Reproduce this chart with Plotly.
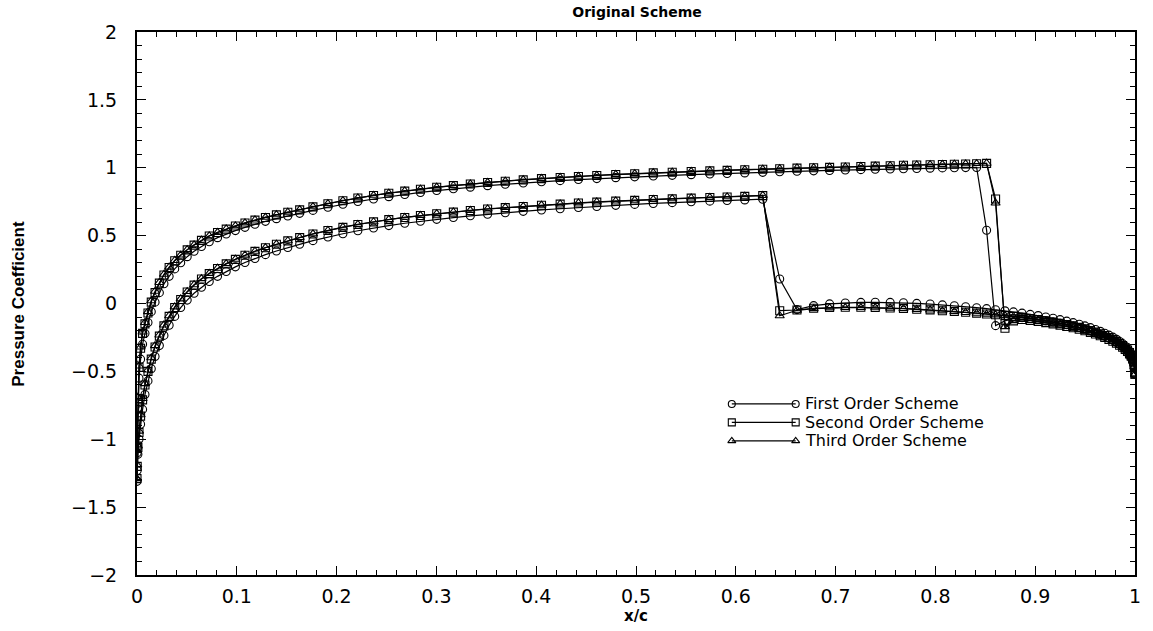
import plotly.graph_objects as go

# Chordwise stations x/c (shared by upper and lower surface, all schemes)
XC = [
    0.0000, 0.0002, 0.0009, 0.0020, 0.0036, 0.0056, 0.0080, 0.0110, 0.0143, 0.0181,
    0.0224, 0.0270, 0.0322, 0.0378, 0.0438, 0.0503, 0.0572, 0.0646, 0.0724, 0.0807,
    0.0894, 0.0986, 0.1082, 0.1182, 0.1287, 0.1397, 0.1511, 0.1630, 0.1763, 0.1913,
    0.2063, 0.2213, 0.2370, 0.2523, 0.2683, 0.2840, 0.3003, 0.3170, 0.3340, 0.3513,
    0.3690, 0.3870, 0.4053, 0.4240, 0.4423, 0.4607, 0.4797, 0.4987, 0.5173, 0.5363,
    0.5553, 0.5740, 0.5913, 0.6090, 0.6270, 0.6440, 0.6613, 0.6780, 0.6940, 0.7097,
    0.7253, 0.7397, 0.7547, 0.7680, 0.7813, 0.7947, 0.8070, 0.8190, 0.8303, 0.8413,
    0.8513, 0.8603, 0.8697, 0.8782, 0.8868, 0.8950, 0.9030, 0.9106, 0.9179, 0.9249,
    0.9316, 0.9380, 0.9441, 0.9498, 0.9553, 0.9604, 0.9652, 0.9697, 0.9739, 0.9778,
    0.9814, 0.9846, 0.9876, 0.9902, 0.9925, 0.9945, 0.9962, 0.9976, 0.9987, 0.9994,
    1.0000,
]

# First order scheme
CP_UPPER_1 = [
    -1.310, -1.100, -0.780, -0.550, -0.410, -0.300, -0.220, -0.140, -0.060, 0.010,
    0.080, 0.145, 0.200, 0.255, 0.300, 0.345, 0.385, 0.420, 0.455, 0.485,
    0.512, 0.537, 0.561, 0.584, 0.605, 0.625, 0.645, 0.664, 0.686, 0.709,
    0.731, 0.751, 0.770, 0.787, 0.803, 0.818, 0.832, 0.845, 0.857, 0.868,
    0.878, 0.888, 0.897, 0.905, 0.913, 0.920, 0.927, 0.933, 0.939, 0.944,
    0.949, 0.954, 0.958, 0.962, 0.966, 0.970, 0.974, 0.977, 0.980, 0.983,
    0.986, 0.989, 0.991, 0.993, 0.995, 0.997, 0.999, 1.000, 1.001, 1.002,
    0.540, -0.163, -0.128, -0.110, -0.104, -0.110, -0.118, -0.127, -0.136, -0.146,
    -0.156, -0.167, -0.178, -0.190, -0.202, -0.215, -0.228, -0.241, -0.255, -0.269,
    -0.284, -0.300, -0.316, -0.332, -0.349, -0.367, -0.386, -0.407, -0.431, -0.466,
    -0.520,
]
CP_LOWER_1 = [
    -1.310, -1.230, -1.110, -1.000, -0.890, -0.780, -0.670, -0.570, -0.480, -0.390,
    -0.310, -0.235, -0.160, -0.095, -0.030, 0.025, 0.075, 0.120, 0.162, 0.200,
    0.236, 0.270, 0.302, 0.332, 0.360, 0.387, 0.412, 0.436, 0.463, 0.490,
    0.514, 0.536, 0.556, 0.574, 0.591, 0.606, 0.620, 0.633, 0.646, 0.658,
    0.669, 0.679, 0.689, 0.698, 0.707, 0.715, 0.723, 0.730, 0.737, 0.743,
    0.749, 0.754, 0.759, 0.763, 0.768, 0.180, -0.045, -0.016, -0.003, 0.004,
    0.008, 0.009, 0.008, 0.005, 0.001, -0.004, -0.010, -0.017, -0.024, -0.031,
    -0.038, -0.046, -0.054, -0.062, -0.071, -0.080, -0.089, -0.099, -0.109, -0.119,
    -0.130, -0.141, -0.153, -0.165, -0.178, -0.191, -0.205, -0.219, -0.233, -0.248,
    -0.264, -0.280, -0.297, -0.315, -0.333, -0.352, -0.372, -0.394, -0.420, -0.458,
    -0.520,
]

# Second order scheme
CP_UPPER_2 = [
    -1.290, -1.050, -0.700, -0.470, -0.330, -0.220, -0.150, -0.070, 0.010, 0.080,
    0.150, 0.210, 0.265, 0.315, 0.355, 0.395, 0.430, 0.465, 0.497, 0.523,
    0.548, 0.571, 0.593, 0.614, 0.634, 0.653, 0.672, 0.690, 0.712, 0.735,
    0.757, 0.777, 0.796, 0.812, 0.828, 0.842, 0.856, 0.868, 0.880, 0.891,
    0.901, 0.911, 0.920, 0.928, 0.936, 0.943, 0.950, 0.956, 0.962, 0.967,
    0.972, 0.977, 0.981, 0.985, 0.989, 0.993, 0.997, 1.000, 1.003, 1.006,
    1.009, 1.012, 1.015, 1.018, 1.020, 1.022, 1.024, 1.026, 1.028, 1.030,
    1.032, 0.770, -0.182, -0.128, -0.118, -0.124, -0.132, -0.141, -0.150, -0.159,
    -0.169, -0.179, -0.190, -0.201, -0.213, -0.225, -0.238, -0.251, -0.264, -0.278,
    -0.292, -0.307, -0.322, -0.338, -0.354, -0.371, -0.389, -0.409, -0.432, -0.465,
    -0.520,
]
CP_LOWER_2 = [
    -1.290, -1.200, -1.060, -0.950, -0.830, -0.710, -0.600, -0.500, -0.410, -0.320,
    -0.240, -0.165, -0.095, -0.030, 0.030, 0.085, 0.135, 0.180, 0.220, 0.258,
    0.292, 0.325, 0.355, 0.384, 0.411, 0.437, 0.461, 0.485, 0.512, 0.538,
    0.561, 0.582, 0.601, 0.618, 0.634, 0.648, 0.661, 0.673, 0.685, 0.696,
    0.706, 0.715, 0.724, 0.732, 0.740, 0.747, 0.754, 0.760, 0.766, 0.771,
    0.776, 0.781, 0.785, 0.789, 0.795, -0.053, -0.048, -0.035, -0.030, -0.028,
    -0.028, -0.030, -0.033, -0.037, -0.042, -0.047, -0.053, -0.059, -0.065, -0.071,
    -0.077, -0.083, -0.089, -0.095, -0.102, -0.110, -0.118, -0.127, -0.136, -0.145,
    -0.155, -0.165, -0.176, -0.187, -0.199, -0.211, -0.224, -0.237, -0.250, -0.264,
    -0.279, -0.294, -0.310, -0.326, -0.343, -0.361, -0.380, -0.401, -0.425, -0.460,
    -0.520,
]

# Third order scheme
CP_UPPER_3 = [
    -1.290, -1.040, -0.690, -0.460, -0.320, -0.210, -0.140, -0.060, 0.020, 0.090,
    0.155, 0.215, 0.268, 0.317, 0.357, 0.397, 0.432, 0.466, 0.498, 0.524,
    0.549, 0.572, 0.594, 0.615, 0.635, 0.654, 0.673, 0.691, 0.713, 0.736,
    0.758, 0.778, 0.797, 0.813, 0.829, 0.843, 0.857, 0.869, 0.881, 0.892,
    0.902, 0.912, 0.921, 0.929, 0.937, 0.944, 0.951, 0.957, 0.963, 0.968,
    0.973, 0.978, 0.982, 0.986, 0.990, 0.994, 0.998, 1.001, 1.004, 1.007,
    1.010, 1.013, 1.016, 1.019, 1.021, 1.023, 1.025, 1.027, 1.029, 1.031,
    1.033, 0.740, -0.170, -0.126, -0.117, -0.123, -0.131, -0.140, -0.149, -0.158,
    -0.168, -0.178, -0.189, -0.200, -0.212, -0.224, -0.237, -0.250, -0.263, -0.277,
    -0.291, -0.306, -0.321, -0.337, -0.353, -0.370, -0.388, -0.408, -0.431, -0.464,
    -0.520,
]
CP_LOWER_3 = [
    -1.290, -1.190, -1.050, -0.940, -0.820, -0.700, -0.590, -0.490, -0.400, -0.310,
    -0.232, -0.158, -0.090, -0.025, 0.034, 0.088, 0.138, 0.183, 0.222, 0.260,
    0.294, 0.326, 0.356, 0.385, 0.412, 0.438, 0.462, 0.486, 0.513, 0.539,
    0.562, 0.583, 0.602, 0.619, 0.635, 0.649, 0.662, 0.674, 0.686, 0.697,
    0.707, 0.716, 0.725, 0.733, 0.741, 0.748, 0.755, 0.761, 0.767, 0.772,
    0.777, 0.782, 0.786, 0.790, 0.796, -0.090, -0.050, -0.038, -0.032, -0.030,
    -0.030, -0.031, -0.034, -0.038, -0.043, -0.048, -0.054, -0.060, -0.066, -0.072,
    -0.078, -0.084, -0.090, -0.096, -0.103, -0.111, -0.119, -0.128, -0.137, -0.146,
    -0.156, -0.166, -0.177, -0.188, -0.200, -0.212, -0.225, -0.238, -0.251, -0.265,
    -0.280, -0.295, -0.311, -0.327, -0.344, -0.362, -0.381, -0.402, -0.426, -0.461,
    -0.520,
]

SCHEME_NAMES = ["First Order Scheme", "Second Order Scheme", "Third Order Scheme"]
SCHEME_DATA = [
    (CP_LOWER_1, CP_UPPER_1),
    (CP_LOWER_2, CP_UPPER_2),
    (CP_LOWER_3, CP_UPPER_3),
]
SYMBOLS = ["circle-open", "square-open", "triangle-up-open"]

SANS = "DejaVu Sans, Arial, sans-serif"
TICK_FONT = dict(family=SANS, size=19, color="black")

fig = go.Figure()

for name, (lower, upper), sym in zip(SCHEME_NAMES, SCHEME_DATA, SYMBOLS):
    # walk trailing edge -> leading edge along the lower surface, then back along the upper
    xs = XC[::-1] + XC[1:]
    ys = lower[::-1] + upper[1:]
    fig.add_trace(go.Scatter(
        x=xs, y=ys, mode="lines+markers", name=name, showlegend=False,
        line=dict(color="black", width=1.2),
        marker=dict(symbol=sym, size=8, color="black", line=dict(width=1.1, color="black")),
    ))

# Legend keys: a short line with a symbol at each end, drawn on an overlay axis
LEGEND_X = [0.596, 0.660]
LEGEND_Y = [0.315, 0.281, 0.247]
LEGEND_TEXT_X = 0.667
for name, sym, ly in zip(SCHEME_NAMES, SYMBOLS, LEGEND_Y):
    fig.add_trace(go.Scatter(
        x=LEGEND_X, y=[ly, ly], xaxis="x2", yaxis="y2", mode="lines+markers",
        showlegend=False, hoverinfo="skip",
        line=dict(color="black", width=1.2),
        marker=dict(symbol=sym, size=7, color="black", line=dict(width=1.1, color="black")),
    ))
    fig.add_annotation(
        x=LEGEND_TEXT_X, y=ly, xref="paper", yref="paper", text=name,
        showarrow=False, xanchor="left", yanchor="middle",
        font=dict(family=SANS, size=16, color="black"),
    )

axis_common = dict(
    showgrid=False, zeroline=False, showline=True, linecolor="black", linewidth=2,
    mirror="ticks", ticks="inside", ticklen=9, tickwidth=1.2, tickcolor="black",
    tickfont=TICK_FONT,
)

fig.update_layout(
    width=1153, height=631,
    margin=dict(l=137, r=16, t=32, b=54),
    paper_bgcolor="white", plot_bgcolor="white",
    title=dict(
        text="<b>Original Scheme</b>", x=0.5525, xanchor="center",
        y=1 - 12 / 631, yanchor="middle", yref="container",
        font=dict(family=SANS, size=14, color="black"),
    ),
    xaxis=dict(
        range=[0, 1], dtick=0.1, tick0=0,
        minor=dict(dtick=0.02, ticks="inside", ticklen=5, tickcolor="black"),
        ticklabelstandoff=3,
        title=dict(text="<b>x/c</b>", standoff=2,
                   font=dict(family=SANS, size=15, color="black")),
        **axis_common,
    ),
    yaxis=dict(
        range=[-2, 2], dtick=0.5, tick0=0,
        minor=dict(dtick=0.1, ticks="inside", ticklen=5, tickcolor="black"),
        ticklabelstandoff=14,
        **axis_common,
    ),
    xaxis2=dict(overlaying="x", range=[0, 1], visible=False, fixedrange=True),
    yaxis2=dict(overlaying="y", range=[0, 1], visible=False, fixedrange=True),
    font=dict(family=SANS, color="black"),
)

fig.add_annotation(
    x=-0.119, y=0.5, xref="paper", yref="paper", text="<b>Pressure Coefficient</b>",
    textangle=-90, showarrow=False, xanchor="center", yanchor="middle",
    font=dict(family="Liberation Sans, Arial, sans-serif", size=17, color="black"),
)

fig.write_html("out.html")
